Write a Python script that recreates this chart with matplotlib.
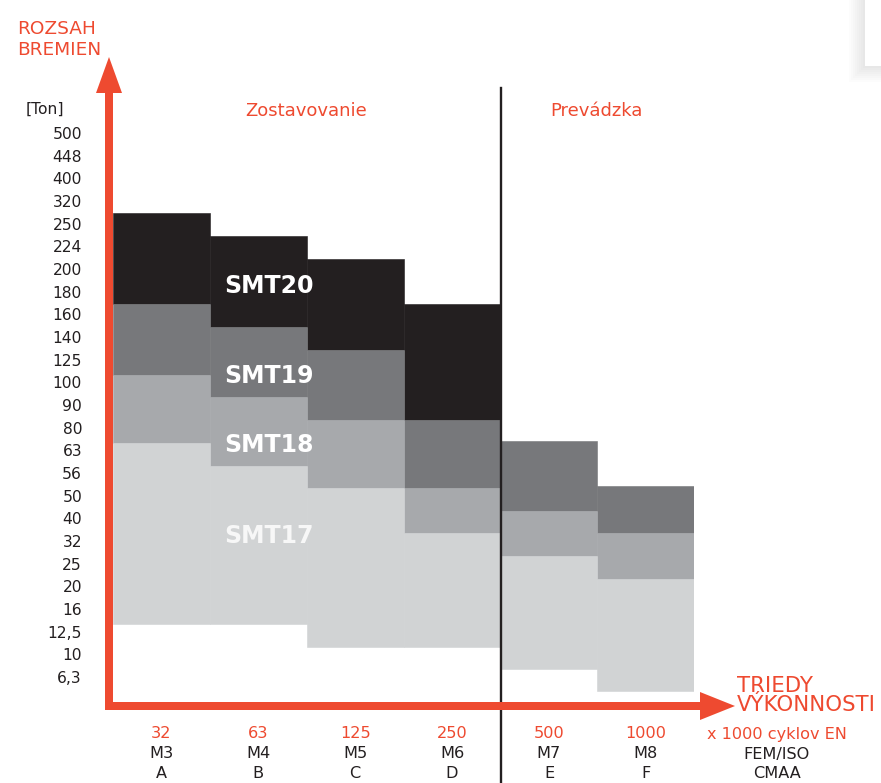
import numpy as np
import matplotlib
matplotlib.use("Agg")
import matplotlib.pyplot as plt
from matplotlib.patches import FancyArrow, Rectangle
from matplotlib.transforms import blended_transform_factory

# ---------------- data ----------------
classes = ['A', 'B', 'C', 'D', 'E', 'F']
fem_iso = ['M3', 'M4', 'M5', 'M6', 'M7', 'M8']
cycles = ['32', '63', '125', '250', '500', '1000']
ton_labels = ['500', '448', '400', '320', '250', '224', '200', '180', '160', '140',
              '125', '100', '90', '80', '63', '56', '50', '40', '32', '25', '20',
              '16', '12,5', '10', '6,3']

# band limits, read as positions on the (categorical) ton scale, 0 = "500"
smt20_top = [3.54, 4.54, 5.57, 7.56, np.nan, np.nan]
smt19_top = [7.54, 8.54, 9.57, 12.66, 13.57, 15.57]
smt18_top = [10.67, 11.66, 12.66, 15.67, 16.67, 17.66]
smt17_top = [13.67, 14.67, 15.67, 17.66, 18.66, 19.67]
smt17_bottom = [21.66, 21.66, 22.66, 22.66, 23.66, 24.6]

series_names = ['SMT20', 'SMT19', 'SMT18', 'SMT17']
series_colors = ['#231f20', '#77787b', '#a7a9ac', '#d1d3d4']
label_colors = ['#ffffff', '#ffffff', '#ffffff', '#f7f7f7']

RED = '#ee4a30'
DARK = '#231f20'

# ---------------- layout ----------------
W, H = 881, 783
fig = plt.figure(figsize=(W / 100, H / 100), dpi=100)
fig.patch.set_facecolor('white')

X0, X6 = 113.0, 694.3          # pixel x of class A left edge / F right edge
Y0, DY = 133.0, 22.67          # pixel y of first ton label, spacing
ytop_i, ybot_i = -1.0, 25.3
ax_left = X0 / W
ax_w = (X6 - X0) / W
ax_top_px = Y0 + DY * ytop_i
ax_bot_px = Y0 + DY * ybot_i
ax = fig.add_axes([ax_left, 1 - ax_bot_px / H, ax_w, (ax_bot_px - ax_top_px) / H])
ax.set_xlim(0, len(classes))
ax.set_ylim(ybot_i, ytop_i)
ax.axis('off')

ux = (X6 - X0) / len(classes)   # pixels per x unit


def dx(px):
    return (px - X0) / ux


def dy(py):
    return (py - Y0) / DY


def fx(px):
    return px / W


def fy(py):
    return 1 - py / H


# ---------------- bands ----------------
tops = [smt20_top, smt19_top, smt18_top, smt17_top]
bottoms = [smt19_top, smt18_top, smt17_top, smt17_bottom]
xpos = np.arange(len(classes))
for top, bot, col in zip(tops, bottoms, series_colors):
    top = np.array(top, dtype=float)
    bot = np.array(bot, dtype=float)
    m = ~np.isnan(top)
    ax.bar(xpos[m], bot[m] - top[m], bottom=top[m], width=1.0, align='edge',
           color=col, edgecolor=col, linewidth=0.4, zorder=2)

# band labels
label_pos = [(224, 292.7), (224, 382.7), (224, 451.7), (224, 542.7)]
for name, (px, py), lc in zip(series_names, label_pos, label_colors):
    fig.text(fx(px), fy(py), name, color=lc, fontsize=17, fontweight='bold',
             ha='left', va='baseline', zorder=5)

# ---------------- y tick labels ----------------
for i, lab in enumerate(ton_labels):
    fig.text(fx(82), fy(Y0 + DY * i), lab, ha='right', va='center_baseline',
             fontsize=11.2, color=DARK)
fig.text(fx(45), fy(114), '[Ton]', ha='center', va='baseline', fontsize=11.2, color=DARK)

# ---------------- divider line ----------------
ax.plot([4, 4], [dy(88), dy(790)], color=DARK, lw=1.7, clip_on=False, zorder=3)

# ---------------- red axis arrows ----------------
vx = dx(109)
va = FancyArrow(vx, dy(710), 0, dy(57) - dy(710), width=8 / ux, head_width=26 / ux,
                head_length=36 / DY, length_includes_head=True, color=RED,
                lw=0, clip_on=False, zorder=6)
ax.add_patch(va)
hy = dy(706)
ha_ = FancyArrow(dx(105), hy, dx(735) - dx(105), 0, width=8 / DY, head_width=28 / DY,
                 head_length=35 / ux, length_includes_head=True, color=RED,
                 lw=0, clip_on=False, zorder=6)
ax.add_patch(ha_)

# ---------------- titles ----------------
fig.text(fx(17), fy(34.3), 'ROZSAH', color=RED, fontsize=13.3, ha='left', va='baseline')
fig.text(fx(17), fy(55), 'BREMIEN', color=RED, fontsize=13.3, ha='left', va='baseline')
fig.text(fx(305.7), fy(116), 'Zostavovanie', color=RED, fontsize=13, ha='center', va='baseline')
fig.text(fx(596), fy(116), 'Prevádzka', color=RED, fontsize=13, ha='center', va='baseline')
fig.text(fx(737), fy(692), 'TRIEDY', color=RED, fontsize=15.3, ha='left', va='baseline')
fig.text(fx(737), fy(711), 'VÝKONNOSTI', color=RED, fontsize=15.3, ha='left', va='baseline')

# ---------------- x labels ----------------
bt = blended_transform_factory(ax.transData, fig.transFigure)
rows_y = [738.5, 758.5, 778.0]
for i in range(len(classes)):
    xc = i + 0.5
    ax.text(xc, fy(rows_y[0]), cycles[i], transform=bt, color=RED, fontsize=11.6,
            ha='center', va='baseline', clip_on=False)
    ax.text(xc, fy(rows_y[1]), fem_iso[i], transform=bt, color=DARK, fontsize=11.6,
            ha='center', va='baseline', clip_on=False)
    ax.text(xc, fy(rows_y[2]), classes[i], transform=bt, color=DARK, fontsize=11.6,
            ha='center', va='baseline', clip_on=False)
xe = dx(776.7)
ax.text(xe, fy(rows_y[0]), 'x 1000 cyklov EN', transform=bt, color=RED, fontsize=11.6,
        ha='center', va='baseline', clip_on=False)
ax.text(xe, fy(rows_y[1]), 'FEM/ISO', transform=bt, color=DARK, fontsize=11.6,
        ha='center', va='baseline', clip_on=False)
ax.text(xe, fy(rows_y[2]), 'CMAA', transform=bt, color=DARK, fontsize=11.6,
        ha='center', va='baseline', clip_on=False)

# ---------------- top-right shadowed box ----------------
for k in range(8):
    pad = 2 * (8 - k)
    fig.patches.append(Rectangle((fx(865 - pad), fy(66 + pad)), (W - 865 + pad) / W,
                                 (66 + pad) / H, transform=fig.transFigure,
                                 facecolor='#000000', alpha=0.012, edgecolor='none'))
fig.patches.append(Rectangle((fx(865), fy(66)), (W - 865) / W, 66 / H,
                             transform=fig.transFigure, facecolor='white',
                             edgecolor='none'))

fig.savefig('out.png', dpi=100, facecolor='white')
